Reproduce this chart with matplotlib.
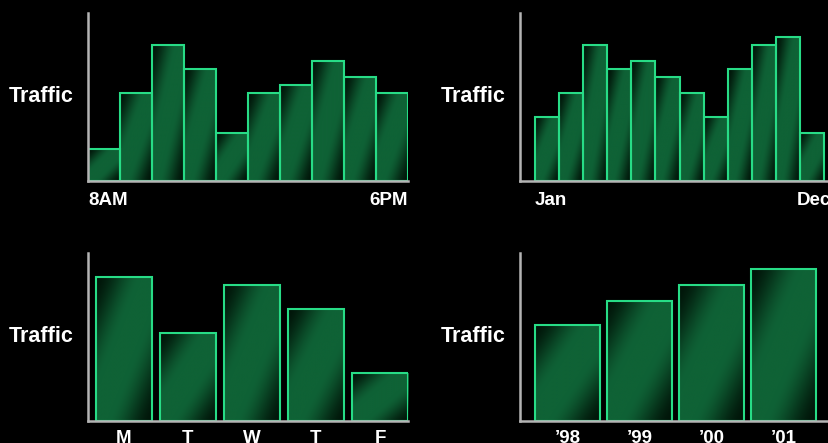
import numpy as np
import matplotlib
matplotlib.use("Agg")
import matplotlib.pyplot as plt
from matplotlib.colors import to_rgb

plt.rcParams['font.family'] = ['Liberation Sans', 'DejaVu Sans']
plt.rcParams['font.weight'] = 'bold'

# data (arbitrary traffic units)
hour_traffic = [4, 11, 17, 14, 6, 11, 12, 15, 13, 11]
hour_ends = ['8AM', '6PM']

month_traffic = [8, 11, 17, 14, 15, 13, 11, 8, 14, 17, 18, 6]
month_ends = ['Jan', 'Dec']

day_labels = ['M', 'T', 'W', 'T', 'F']
day_traffic = [18, 11, 17, 14, 6]

year_labels = ['\u201998', '\u201999', '\u201900', '\u201901']
year_traffic = [12, 15, 17, 19]

W, H = 829, 443
DARK = np.array(to_rgb('#011509'))
MID = np.array(to_rgb('#0f6236'))
EDGE = '#27dc86'
AXIS = '#b4b4b4'
YMAX = 21

# diagonal gradient, dark in top-left and bottom-right corners
n = 120
u = np.linspace(0, 1, n)
t = (u[None, :] + u[:, None]) / 2
f = np.clip(np.minimum(t, 1 - t) / 0.4, 0, 1)
f = f * f * (3 - 2 * f)
grad = DARK + (MID - DARK) * f[..., None]

fig = plt.figure(figsize=(W / 100, H / 100), dpi=100, facecolor='black')


def panel(left_px, bottom_px, values, gap_px, pitch_px, width_px):
    ax = fig.add_axes([left_px / W, 1 - bottom_px / H, 320 / W, 168 / H])
    ax.set_facecolor('black')
    x0 = -gap_px / pitch_px
    xlim = (x0, x0 + 320 / pitch_px)
    x = np.arange(len(values))
    bars = ax.bar(x, values, width=width_px / pitch_px, align='edge',
                  color='none', edgecolor=EDGE, linewidth=1.5, zorder=3)
    for b in bars:
        bx, by = b.get_x(), b.get_y()
        im = ax.imshow(grad, extent=[bx, bx + b.get_width(), by, by + b.get_height()],
                       aspect='auto', interpolation='bilinear', zorder=2)
        im.set_clip_path(b)
    ax.set_xlim(*xlim)
    ax.set_ylim(0, YMAX)
    for s in ['top', 'right']:
        ax.spines[s].set_visible(False)
    for s in ['left', 'bottom']:
        ax.spines[s].set_color(AXIS)
        ax.spines[s].set_linewidth(1.8)
        ax.spines[s].set_zorder(5)
    ax.set_xticks([])
    ax.set_yticks([])
    ax.annotate('Traffic', xy=(0, 0.5), xycoords='axes fraction',
                xytext=(-14, 0), textcoords='offset pixels',
                ha='right', va='center', color='white', fontsize=15.5,
                fontweight='bold')
    return ax, bars


def xlabel(ax, x, s, ha, dy):
    ax.annotate(s, xy=(x, 0), xycoords=('data', 'axes fraction'),
                xytext=(0, -dy), textcoords='offset pixels',
                ha=ha, va='top', color='white', fontsize=13.5,
                fontweight='bold', annotation_clip=False)


ax1, b1 = panel(88, 181, hour_traffic, 0, 32, 32)
xlabel(ax1, 0, hour_ends[0], 'left', 11)
xlabel(ax1, len(hour_traffic), hour_ends[1], 'right', 11)

ax2, b2 = panel(520, 181, month_traffic, 15, 24.1, 24.1)
xlabel(ax2, 0, month_ends[0], 'left', 11)
xlabel(ax2, len(month_traffic) - 1 - 0.13, month_ends[1], 'left', 11)

ax3, b3 = panel(88, 421, day_traffic, 7.7, 64, 56.6)
for b, s in zip(b3, day_labels):
    xlabel(ax3, b.get_x() + b.get_width() / 2, s, 'center', 9)

ax4, b4 = panel(520, 421, year_traffic, 15.3, 72, 65)
for b, s in zip(b4, year_labels):
    xlabel(ax4, b.get_x() + b.get_width() / 2, s, 'center', 9)

fig.savefig('out.png', dpi=100, facecolor='black')
